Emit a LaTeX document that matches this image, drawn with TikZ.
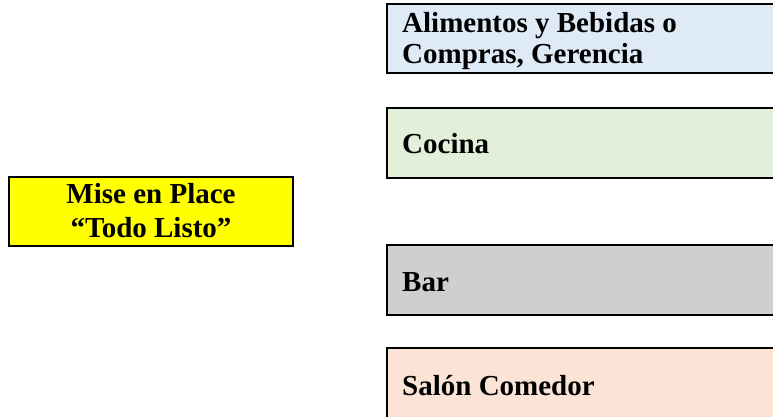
\documentclass[tikz,border=0pt]{standalone}
\usepackage{fontspec}
\setmainfont{Liberation Serif}
\definecolor{cblue}{HTML}{DEEAF6}
\definecolor{cgreen}{HTML}{E2EFD9}
\definecolor{cgray}{HTML}{D0CECE}
\definecolor{cpeach}{HTML}{FBE4D5}
\definecolor{cyellow}{HTML}{FFFF00}
\tikzset{
  boxshape/.style={draw=black, line width=2pt, inner sep=0pt, rectangle},
  lbl/.style={font=\fontsize{29}{31}\selectfont\bfseries, inner sep=0pt, anchor=base west},
  clbl/.style={font=\fontsize{29}{34}\selectfont\bfseries, inner sep=0pt, anchor=base, align=center},
}
\begin{document}
\begin{tikzpicture}[x=1pt,y=-1pt]
\useasboundingbox (0,0) rectangle (773,416);
\clip (0,0) rectangle (773,416);
\draw[boxshape, fill=cblue] (387,4) rectangle (800,73);
\draw[boxshape, fill=cgreen] (387,108) rectangle (800,178);
\draw[boxshape, fill=cgray] (387,245) rectangle (800,315);
\draw[boxshape, fill=cpeach] (387,348) rectangle (800,430);
\draw[boxshape, fill=cyellow] (9,177) rectangle (293,246);
\node[lbl] (t1) at (402,32) {Alimentos y Bebidas o};
\node[lbl] (t1b) at (402,63) {Compras, Gerencia};
\node[lbl] (t2) at (402,153) {Cocina};
\node[lbl] (t3) at (402,291) {Bar};
\node[lbl] (t4) at (402,395) {Salón Comedor};
\node[clbl] (m1) at (151,203) {Mise en Place};
\node[clbl] (m2) at (151,237) {“Todo Listo”};
\end{tikzpicture}
\end{document}
